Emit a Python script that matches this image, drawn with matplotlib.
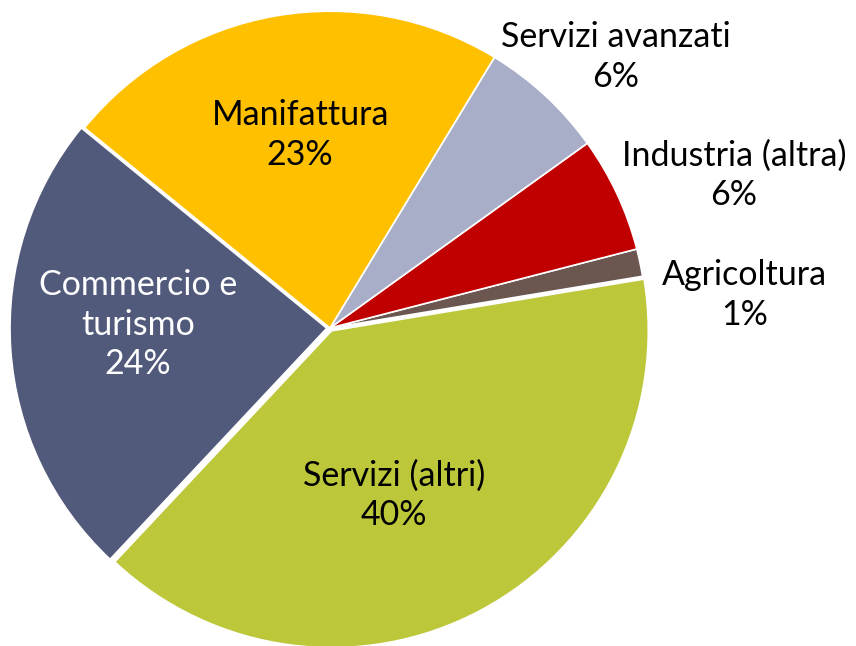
import numpy as np
import matplotlib.pyplot as plt

plt.rcParams['font.family'] = ['Lato', 'DejaVu Sans']

# settori, in senso antiorario a partire da destra
settori = ["Agricoltura", "Industria (altra)", "Servizi avanzati", "Manifattura",
           "Commercio e\nturismo", "Servizi (altri)"]
quote = [1.4, 5.9, 6.4, 22.8, 23.9, 39.6]
colori = ["#6B5750", "#C00000", "#A9AEC8", "#FFC000", "#525A7C", "#BDC73A"]
stacco = [0, 0, 0, 0, 0.01, 0.01]

# posizioni delle etichette (raggio, angolo in gradi) e colore testo
pos_etichette = [(1.30, 4.5), (1.35, 20.7), (1.23, 43.5), (0.61, 98.8), (0.60, 179.0), (0.56, 291.0)]
col_testo = ["black", "black", "black", "black", "white", "black"]

fig = plt.figure(figsize=(8.56, 6.46), dpi=100)
ax = fig.add_axes([10 / 856, -2 / 646, 640 / 856, 640 / 646])

wedges, _ = ax.pie(quote, colors=colori, startangle=9.4, counterclock=True, explode=stacco,
                   radius=0.99, wedgeprops=dict(edgecolor="white", linewidth=1.2))

for nome, q, (r, ang), c in zip(settori, quote, pos_etichette, col_testo):
    x = r * np.cos(np.radians(ang))
    y = r * np.sin(np.radians(ang))
    ax.text(x, y, "%s\n%.0f%%" % (nome, q), ha="center", va="center",
            fontsize=24.5, color=c, linespacing=1.3, clip_on=False)

ax.set_xlim(-1, 1)
ax.set_ylim(-1, 1)
ax.set_aspect("equal")
ax.axis("off")

fig.savefig("out.png", dpi=100)
